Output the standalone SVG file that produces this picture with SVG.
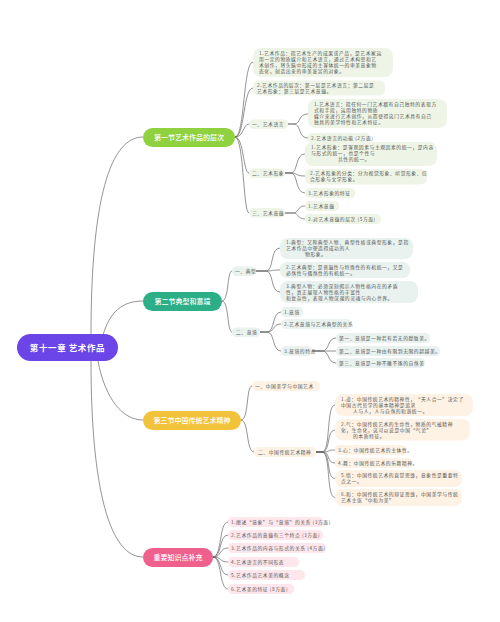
<svg xmlns="http://www.w3.org/2000/svg" width="500" height="622" viewBox="0 0 500 622">
<style>
.t{font-family:"Noto Sans CJK SC","Noto Sans",sans-serif;font-size:4.8px;letter-spacing:0.55px;fill:#555}
.s{font-family:"Noto Sans CJK SC","Noto Sans",sans-serif;font-size:7px;fill:#fff;font-weight:500}
.r{font-family:"Noto Sans CJK SC","Noto Sans",sans-serif;font-size:8.5px;fill:#fff;font-weight:700;letter-spacing:0.6px}
.c{fill:none;stroke:#666;stroke-width:0.7}
.g{fill:#eef5e7}.q{fill:#e9f2ef}.y{fill:#fdf2e4}.p{fill:#fde7ec}
</style>
<rect width="500" height="622" fill="#fff"/>
<g id="connectors">
<path class="c" d="M91,335 C91,200 110,137 143,137"/>
<path class="c" d="M103,335 C110,312 122,301 143,301"/>
<path class="c" d="M98,361 C105,398 122,420 143,420"/>
<path class="c" d="M91,361 C91,490 110,557 143,557"/>
<path class="c" d="M235,137 C245,137 243,62 253,62"/>
<path class="c" d="M235,137 C245,137 243,88 253,88"/>
<path class="c" d="M235,137 C244,137 243,124 249,124"/>
<path class="c" d="M235,137 C244,137 243,173 249,173"/>
<path class="c" d="M235,137 C244,137 243,213 249,213"/>
<path class="c" d="M288,124 L294,124 C301,124 298,114 308,114"/>
<path class="c" d="M288,124 L294,124 C301,124 298,138 308,138"/>
<path class="c" d="M285,173 L291,173 C298,173 295,154 305,154"/>
<path class="c" d="M285,173 L291,173 C298,173 295,176 305,176"/>
<path class="c" d="M285,173 L291,173 C298,173 295,193 305,193"/>
<path class="c" d="M285,213 L293,213 C299,213 297,206 305,206"/>
<path class="c" d="M285,213 L293,213 C299,213 297,219 305,219"/>
<path class="c" d="M222,301 C229,301 227,271 232,271"/>
<path class="c" d="M222,301 C229,301 227,332 232,332"/>
<path class="c" d="M256,271 L266,271 C274,271 270,248 280,248"/>
<path class="c" d="M256,271 L266,271 C274,271 270,270 280,270"/>
<path class="c" d="M256,271 L266,271 C274,271 270,292 280,292"/>
<path class="c" d="M260,332 L267,332 C275,332 272,312 281,312"/>
<path class="c" d="M260,332 L267,332 C275,332 272,324 281,324"/>
<path class="c" d="M260,332 L267,332 C275,332 272,351 281,351"/>
<path class="c" d="M312,351 L322,351 C330,351 327,338 336,338"/>
<path class="c" d="M312,351 L336,351"/>
<path class="c" d="M312,351 L322,351 C330,351 327,363 336,363"/>
<path class="c" d="M241,420 C249,420 246,386 252,386"/>
<path class="c" d="M241,420 C249,420 246,452 254,452"/>
<path class="c" d="M316,452 L322,452 C331,452 326,405 335,405"/>
<path class="c" d="M316,452 L322,452 C331,452 326,430 335,430"/>
<path class="c" d="M316,452 L322,452 C331,452 326,450 335,450"/>
<path class="c" d="M316,452 L322,452 C331,452 326,463 335,463"/>
<path class="c" d="M316,452 L322,452 C331,452 326,478.5 335,478.5"/>
<path class="c" d="M316,452 L322,452 C331,452 326,497.5 335,497.5"/>
<path class="c" d="M213,557 C222,557 219,522 228,522"/>
<path class="c" d="M213,557 C222,557 219,535 228,535"/>
<path class="c" d="M213,557 C222,557 219,548 228,548"/>
<path class="c" d="M213,557 C222,557 219,562 228,562"/>
<path class="c" d="M213,557 C222,557 219,575 228,575"/>
<path class="c" d="M213,557 C222,557 219,589 228,589"/>
</g>
<g id="root"><rect x="17" y="334" width="101" height="27" rx="13.5" fill="#6b45e8"/><text class="r" x="67.5" y="350.5" text-anchor="middle">第十一章 艺术作品</text></g>
<g id="sec1"><rect x="143" y="128" width="92" height="19" rx="9.5" fill="#8fd13f"/><text class="s" x="189" y="140" text-anchor="middle">第一节艺术作品的层次</text></g>
<g id="sec2"><rect x="143" y="292" width="79" height="19" rx="9.5" fill="#2caf87"/><text class="s" x="182.5" y="304" text-anchor="middle">第二节典型和意境</text></g>
<g id="sec3"><rect x="143" y="411" width="98" height="19" rx="9.5" fill="#f2c23a"/><text class="s" x="192" y="423" text-anchor="middle">第三节中国传统艺术精神</text></g>
<g id="sec4"><rect x="143" y="548" width="70" height="19" rx="9.5" fill="#f0608c"/><text class="s" x="178" y="560" text-anchor="middle">重要知识点补充</text></g>

<g id="s1a"><rect class="g" x="253" y="48" width="140" height="29" rx="8"/><text class="t"><tspan x="259" y="55">1.艺术作品：指艺术生产的成果或产品，是艺术家运</tspan><tspan x="259" y="61">用一定的物质媒介和艺术语言，通过艺术构思和艺</tspan><tspan x="259" y="67">术创作，将头脑中形成的主客体统一的审美意象物</tspan><tspan x="259" y="73">态化，创造出来的审美鉴赏的对象。</tspan></text></g>
<g id="s1b"><rect class="g" x="253" y="80.5" width="132" height="15" rx="6"/><text class="t"><tspan x="257" y="86.5">2.艺术作品的层次：第一层是艺术语言；第二层是</tspan><tspan x="257" y="92.5">艺术形象；第三层是艺术意蕴。</tspan></text></g>
<g id="s1c"><rect class="g" x="249" y="119.5" width="39" height="9.5" rx="4.5"/><text class="t" x="252" y="126">一、艺术语言</text></g>
<g id="s1c1"><rect class="g" x="308" y="99" width="139" height="29" rx="8"/><text class="t"><tspan x="314" y="105.5">1.艺术语言：指任何一门艺术都有自己独特的表现方</tspan><tspan x="314" y="111.5">式和手段，运用独特的物质</tspan><tspan x="314" y="117.5">媒介来进行艺术创作，从而使得这门艺术具有自己</tspan><tspan x="314" y="123.5">独具的美学特性和艺术特征。</tspan></text></g>
<g id="s1c2"><rect class="g" x="308" y="133" width="62" height="10" rx="4.5"/><text class="t" x="311" y="139.8">2.艺术语言的功能 (2方面)</text></g>
<g id="s1d"><rect class="g" x="249" y="168.5" width="36" height="9.5" rx="4.5"/><text class="t" x="252" y="175">二、艺术形象</text></g>
<g id="s1d1"><rect class="g" x="305" y="142" width="132" height="24" rx="8"/><text class="t"><tspan x="311" y="149">1.艺术形象：是客观因素与主观因素的统一，是内容</tspan><tspan x="311" y="155">与形式的统一，也是个性与</tspan><tspan x="338" y="161">共性的统一。</tspan></text></g>
<g id="s1d2"><rect class="g" x="305" y="169" width="122" height="15.5" rx="6"/><text class="t"><tspan x="310" y="175">2.艺术形象的分类：分为视觉形象、听觉形象、综</tspan><tspan x="310" y="181">合形象与文学形象。</tspan></text></g>
<g id="s1d3"><rect class="g" x="305" y="188" width="50" height="10" rx="4.5"/><text class="t" x="308" y="194.8">3.艺术形象的特征</text></g>
<g id="s1e"><rect class="g" x="249" y="208" width="36" height="9.5" rx="4.5"/><text class="t" x="252" y="214.6">三、艺术意蕴</text></g>
<g id="s1e1"><rect class="g" x="305" y="201" width="34" height="10" rx="4.5"/><text class="t" x="308" y="207.8">1.艺术意蕴</text></g>
<g id="s1e2"><rect class="g" x="305" y="214" width="76" height="10" rx="4.5"/><text class="t" x="308" y="220.8">2.对艺术意蕴的层次 (5方面)</text></g>

<g id="s2a"><rect class="q" x="232" y="266.5" width="24" height="9.5" rx="4.5"/><text class="t" x="235" y="273">一、典型</text></g>
<g id="s2a1"><rect class="q" x="280" y="238" width="133" height="21" rx="8"/><text class="t"><tspan x="286" y="244.2">1.典型：又称典型人物、典型性格或典型形象，是指</tspan><tspan x="286" y="250.2">艺术作品中塑造得成功的人</tspan><tspan x="305" y="256.2">物形象。</tspan></text></g>
<g id="s2a2"><rect class="q" x="280" y="262" width="130" height="16" rx="7"/><text class="t"><tspan x="286" y="268.5">2.艺术典型：是普遍性与特殊性的有机统一，又是</tspan><tspan x="286" y="274.5">必然性与偶然性的有机统一。</tspan></text></g>
<g id="s2a3"><rect class="q" x="280" y="281" width="138" height="22" rx="8"/><text class="t"><tspan x="286" y="287.5">3.典型人物：必须深刻揭示人物性格内在的矛盾</tspan><tspan x="286" y="293.5">性，真正展现人物性格的丰富性</tspan><tspan x="286" y="299.5">和复杂性，表现人物深邃的灵魂与内心世界。</tspan></text></g>
<g id="s2b"><rect class="q" x="232" y="327.5" width="28" height="9.5" rx="4.5"/><text class="t" x="236" y="334">二、意境</text></g>
<g id="s2b1"><rect class="q" x="281" y="307" width="22" height="10" rx="4.5"/><text class="t" x="284" y="313.8">1.意境</text></g>
<g id="s2b2"><rect class="q" x="281" y="319" width="70" height="10" rx="4.5"/><text class="t" x="284" y="325.8">2.艺术意境与艺术典型的关系</text></g>
<g id="s2b3"><rect class="q" x="281" y="346" width="31" height="10" rx="4.5"/><text class="t" x="284" y="352.8">3.意境的特点</text></g>
<g id="s2b31"><rect class="q" x="336" y="333" width="94" height="10" rx="4.5"/><text class="t" x="339" y="339.8">第一、意境是一种若有若无的朦胧美。</text></g>
<g id="s2b32"><rect class="q" x="336" y="346" width="104" height="10" rx="4.5"/><text class="t" x="339" y="352.8">第二、意境是一种由有限到无限的超越美。</text></g>
<g id="s2b33"><rect class="q" x="336" y="358" width="89" height="10" rx="4.5"/><text class="t" x="339" y="364.8">第三、意境是一种不雕不琢的自然美</text></g>

<g id="s3a"><rect class="y" x="252" y="381" width="68" height="10" rx="4.5"/><text class="t" x="255" y="387.8">一、中国美学与中国艺术</text></g>
<g id="s3b"><rect class="y" x="254" y="447" width="62" height="10" rx="4.5"/><text class="t" x="258" y="453.8">二、中国传统艺术精神</text></g>
<g id="s3b1"><rect class="y" x="335" y="394" width="138" height="22" rx="8"/><text class="t"><tspan x="341" y="400.5">1.道：中国传统艺术的精神性，“天人合一”决定了</tspan><tspan x="341" y="406.5">中国古代哲学的基本精神是追求</tspan><tspan x="353" y="412.5">人与人，人与自然的和谐统一。</tspan></text></g>
<g id="s3b2"><rect class="y" x="335" y="419" width="135" height="21.5" rx="8"/><text class="t"><tspan x="341" y="425.5">2.气：中国传统艺术的生命性，物质的气被精神</tspan><tspan x="341" y="431.5">化，生命化，这可以说是中国“气论”</tspan><tspan x="353" y="437.5">的本质特征。</tspan></text></g>
<g id="s3b3"><rect class="y" x="335" y="445" width="71" height="10" rx="4.5"/><text class="t" x="338" y="451.8">3.心：中国传统艺术的主体性。</text></g>
<g id="s3b4"><rect class="y" x="335" y="458" width="77" height="10" rx="4.5"/><text class="t" x="338" y="464.8">4.舞：中国传统艺术的乐舞精神。</text></g>
<g id="s3b5"><rect class="y" x="335" y="470" width="127" height="17" rx="7"/><text class="t"><tspan x="341" y="476.5">5.悟：中国传统艺术的直觉思维，意象性是重要特</tspan><tspan x="341" y="482.5">点之一。</tspan></text></g>
<g id="s3b6"><rect class="y" x="335" y="489" width="127" height="17" rx="7"/><text class="t"><tspan x="341" y="495.5">6.和：中国传统艺术的辩证思维，中国美学与传统</tspan><tspan x="341" y="501.5">艺术主张“中和为美”</tspan></text></g>

<g id="s4a"><rect class="p" x="228" y="517" width="95" height="10" rx="4.5"/><text class="t" x="231" y="523.8">1.阐述“意象”与“意境”的关系 (3方面)</text></g>
<g id="s4b"><rect class="p" x="228" y="530" width="95" height="10" rx="4.5"/><text class="t" x="231" y="536.8">2.艺术作品的意蕴有三个特点 (3方面)</text></g>
<g id="s4c"><rect class="p" x="228" y="543" width="98" height="10" rx="4.5"/><text class="t" x="231" y="549.8">3.艺术作品的内容与形式的关系 (4方面)</text></g>
<g id="s4d"><rect class="p" x="228" y="557" width="71" height="10" rx="4.5"/><text class="t" x="231" y="563.8">4.艺术语言的不同形态</text></g>
<g id="s4e"><rect class="p" x="228" y="570" width="77" height="10" rx="4.5"/><text class="t" x="231" y="576.8">5.艺术作品艺术美的概念</text></g>
<g id="s4f"><rect class="p" x="228" y="584" width="66" height="10" rx="4.5"/><text class="t" x="231" y="590.8">6.艺术美的特征 (8方面)</text></g>
</svg>
